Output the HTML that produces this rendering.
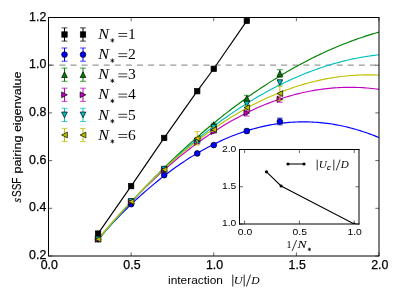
<!DOCTYPE html>
<html><head><meta charset="utf-8"><style>html,body{margin:0;padding:0;background:#fff;overflow:hidden}body{width:399px;height:299px;position:relative;font-family:"Liberation Sans",sans-serif}</style></head><body>
<svg width="399" height="299" viewBox="0 0 399 299" style="position:absolute;left:0;top:0;will-change:transform">
<rect width="399" height="299" fill="#fff"/>
<defs><clipPath id="ax"><rect x="48.5" y="17.5" width="330.5" height="238.5"/></clipPath></defs>
<path d="M48.5 65.20H379.0" stroke="#999" stroke-width="1.2" stroke-dasharray="6 5.09" stroke-dashoffset="0.2" fill="none"/>
<g clip-path="url(#ax)">
<path d="M98.07 233.58 L131.12 186.12 L164.18 137.94 L197.22 91.20 L213.75 68.78 L246.80 20.84" stroke="#000000" stroke-width="1.15" fill="none"/>
<path d="M98.07 239.07 L100.44 236.39 L102.80 233.74 L105.16 231.13 L107.52 228.55 L109.88 225.99 L112.24 223.47 L114.60 220.98 L116.96 218.52 L119.32 216.09 L121.68 213.69 L124.04 211.33 L126.40 208.99 L128.76 206.68 L131.12 204.41 L133.49 202.17 L135.85 199.95 L138.21 197.77 L140.57 195.62 L142.93 193.50 L145.29 191.41 L147.65 189.35 L150.01 187.33 L152.37 185.33 L154.73 183.36 L157.09 181.43 L159.45 179.53 L161.81 177.65 L164.18 175.81 L166.54 174.00 L168.90 172.22 L171.26 170.47 L173.62 168.75 L175.98 167.06 L178.34 165.41 L180.70 163.78 L183.06 162.19 L185.42 160.62 L187.78 159.09 L190.14 157.59 L192.50 156.12 L194.86 154.68 L197.22 153.27 L199.59 151.89 L201.95 150.54 L204.31 149.23 L206.67 147.94 L209.03 146.69 L211.39 145.46 L213.75 144.27 L216.11 143.11 L218.47 141.98 L220.83 140.88 L223.19 139.81 L225.55 138.77 L227.91 137.76 L230.27 136.79 L232.64 135.84 L235.00 134.93 L237.36 134.04 L239.72 133.19 L242.08 132.37 L244.44 131.58 L246.80 130.82 L249.16 130.09 L251.52 129.39 L253.88 128.72 L256.24 128.08 L258.60 127.48 L260.96 126.90 L263.33 126.36 L265.69 125.85 L268.05 125.36 L270.41 124.91 L272.77 124.49 L275.13 124.10 L277.49 123.75 L279.85 123.42 L282.21 123.12 L284.57 122.86 L286.93 122.62 L289.29 122.42 L291.65 122.24 L294.01 122.10 L296.38 121.99 L298.74 121.91 L301.10 121.86 L303.46 121.84 L305.82 121.86 L308.18 121.90 L310.54 121.97 L312.90 122.08 L315.26 122.21 L317.62 122.38 L319.98 122.58 L322.34 122.81 L324.70 123.07 L327.06 123.36 L329.43 123.68 L331.79 124.03 L334.15 124.42 L336.51 124.83 L338.87 125.28 L341.23 125.75 L343.59 126.26 L345.95 126.80 L348.31 127.37 L350.67 127.97 L353.03 128.60 L355.39 129.26 L357.75 129.95 L360.11 130.67 L362.47 131.43 L364.84 132.21 L367.20 133.03 L369.56 133.88 L371.92 134.75 L374.28 135.66 L376.64 136.60 L379.00 137.57" stroke="#0000ff" stroke-width="1.15" fill="none"/>
<path d="M98.07 239.90 L100.44 237.08 L102.80 234.28 L105.16 231.50 L107.52 228.73 L109.88 225.98 L112.24 223.26 L114.60 220.55 L116.96 217.85 L119.32 215.18 L121.68 212.52 L124.04 209.89 L126.40 207.27 L128.76 204.66 L131.12 202.08 L133.49 199.52 L135.85 196.97 L138.21 194.44 L140.57 191.93 L142.93 189.44 L145.29 186.96 L147.65 184.51 L150.01 182.07 L152.37 179.65 L154.73 177.25 L157.09 174.87 L159.45 172.50 L161.81 170.16 L164.18 167.83 L166.54 165.52 L168.90 163.23 L171.26 160.95 L173.62 158.70 L175.98 156.46 L178.34 154.24 L180.70 152.04 L183.06 149.86 L185.42 147.69 L187.78 145.54 L190.14 143.42 L192.50 141.31 L194.86 139.21 L197.22 137.14 L199.59 135.08 L201.95 133.05 L204.31 131.03 L206.67 129.03 L209.03 127.04 L211.39 125.08 L213.75 123.13 L216.11 121.20 L218.47 119.29 L220.83 117.40 L223.19 115.53 L225.55 113.67 L227.91 111.84 L230.27 110.02 L232.64 108.22 L235.00 106.43 L237.36 104.67 L239.72 102.92 L242.08 101.19 L244.44 99.48 L246.80 97.79 L249.16 96.12 L251.52 94.46 L253.88 92.83 L256.24 91.21 L258.60 89.61 L260.96 88.02 L263.33 86.46 L265.69 84.91 L268.05 83.38 L270.41 81.87 L272.77 80.38 L275.13 78.91 L277.49 77.45 L279.85 76.02 L282.21 74.60 L284.57 73.20 L286.93 71.81 L289.29 70.45 L291.65 69.10 L294.01 67.77 L296.38 66.47 L298.74 65.17 L301.10 63.90 L303.46 62.64 L305.82 61.41 L308.18 60.19 L310.54 58.99 L312.90 57.81 L315.26 56.64 L317.62 55.50 L319.98 54.37 L322.34 53.26 L324.70 52.17 L327.06 51.09 L329.43 50.04 L331.79 49.00 L334.15 47.98 L336.51 46.98 L338.87 46.00 L341.23 45.03 L343.59 44.09 L345.95 43.16 L348.31 42.25 L350.67 41.36 L353.03 40.49 L355.39 39.63 L357.75 38.79 L360.11 37.97 L362.47 37.17 L364.84 36.39 L367.20 35.63 L369.56 34.88 L371.92 34.15 L374.28 33.44 L376.64 32.75 L379.00 32.08" stroke="#008000" stroke-width="1.15" fill="none"/>
<path d="M98.07 239.18 L100.44 236.35 L102.80 233.54 L105.16 230.76 L107.52 228.01 L109.88 225.28 L112.24 222.58 L114.60 219.91 L116.96 217.26 L119.32 214.64 L121.68 212.05 L124.04 209.48 L126.40 206.94 L128.76 204.43 L131.12 201.94 L133.49 199.48 L135.85 197.05 L138.21 194.64 L140.57 192.26 L142.93 189.91 L145.29 187.58 L147.65 185.28 L150.01 183.01 L152.37 180.76 L154.73 178.54 L157.09 176.35 L159.45 174.18 L161.81 172.04 L164.18 169.93 L166.54 167.85 L168.90 165.79 L171.26 163.75 L173.62 161.75 L175.98 159.77 L178.34 157.81 L180.70 155.89 L183.06 153.99 L185.42 152.12 L187.78 150.27 L190.14 148.45 L192.50 146.66 L194.86 144.89 L197.22 143.15 L199.59 141.44 L201.95 139.75 L204.31 138.09 L206.67 136.46 L209.03 134.85 L211.39 133.27 L213.75 131.72 L216.11 130.20 L218.47 128.70 L220.83 127.22 L223.19 125.78 L225.55 124.36 L227.91 122.97 L230.27 121.60 L232.64 120.26 L235.00 118.95 L237.36 117.66 L239.72 116.40 L242.08 115.17 L244.44 113.96 L246.80 112.78 L249.16 111.63 L251.52 110.51 L253.88 109.41 L256.24 108.33 L258.60 107.29 L260.96 106.27 L263.33 105.28 L265.69 104.31 L268.05 103.37 L270.41 102.46 L272.77 101.57 L275.13 100.71 L277.49 99.88 L279.85 99.08 L282.21 98.30 L284.57 97.54 L286.93 96.82 L289.29 96.12 L291.65 95.45 L294.01 94.80 L296.38 94.18 L298.74 93.59 L301.10 93.02 L303.46 92.49 L305.82 91.97 L308.18 91.49 L310.54 91.03 L312.90 90.60 L315.26 90.19 L317.62 89.81 L319.98 89.46 L322.34 89.13 L324.70 88.84 L327.06 88.56 L329.43 88.32 L331.79 88.10 L334.15 87.91 L336.51 87.74 L338.87 87.60 L341.23 87.49 L343.59 87.40 L345.95 87.35 L348.31 87.31 L350.67 87.31 L353.03 87.33 L355.39 87.38 L357.75 87.45 L360.11 87.55 L362.47 87.68 L364.84 87.84 L367.20 88.02 L369.56 88.23 L371.92 88.46 L374.28 88.72 L376.64 89.01 L379.00 89.32" stroke="#bf00bf" stroke-width="1.15" fill="none"/>
<path d="M98.07 239.78 L100.44 236.95 L102.80 234.13 L105.16 231.34 L107.52 228.56 L109.88 225.81 L112.24 223.08 L114.60 220.38 L116.96 217.69 L119.32 215.03 L121.68 212.38 L124.04 209.76 L126.40 207.17 L128.76 204.59 L131.12 202.03 L133.49 199.50 L135.85 196.99 L138.21 194.50 L140.57 192.03 L142.93 189.58 L145.29 187.16 L147.65 184.76 L150.01 182.37 L152.37 180.02 L154.73 177.68 L157.09 175.36 L159.45 173.07 L161.81 170.79 L164.18 168.54 L166.54 166.32 L168.90 164.11 L171.26 161.92 L173.62 159.76 L175.98 157.62 L178.34 155.50 L180.70 153.40 L183.06 151.32 L185.42 149.27 L187.78 147.23 L190.14 145.22 L192.50 143.23 L194.86 141.26 L197.22 139.32 L199.59 137.39 L201.95 135.49 L204.31 133.61 L206.67 131.75 L209.03 129.91 L211.39 128.10 L213.75 126.30 L216.11 124.53 L218.47 122.78 L220.83 121.05 L223.19 119.34 L225.55 117.66 L227.91 115.99 L230.27 114.35 L232.64 112.73 L235.00 111.13 L237.36 109.56 L239.72 108.00 L242.08 106.47 L244.44 104.96 L246.80 103.47 L249.16 102.00 L251.52 100.55 L253.88 99.13 L256.24 97.73 L258.60 96.34 L260.96 94.99 L263.33 93.65 L265.69 92.33 L268.05 91.04 L270.41 89.77 L272.77 88.52 L275.13 87.29 L277.49 86.08 L279.85 84.89 L282.21 83.73 L284.57 82.59 L286.93 81.47 L289.29 80.37 L291.65 79.29 L294.01 78.24 L296.38 77.21 L298.74 76.19 L301.10 75.20 L303.46 74.24 L305.82 73.29 L308.18 72.37 L310.54 71.46 L312.90 70.58 L315.26 69.72 L317.62 68.89 L319.98 68.07 L322.34 67.28 L324.70 66.50 L327.06 65.75 L329.43 65.03 L331.79 64.32 L334.15 63.63 L336.51 62.97 L338.87 62.33 L341.23 61.71 L343.59 61.11 L345.95 60.53 L348.31 59.98 L350.67 59.45 L353.03 58.93 L355.39 58.45 L357.75 57.98 L360.11 57.53 L362.47 57.11 L364.84 56.70 L367.20 56.32 L369.56 55.96 L371.92 55.63 L374.28 55.31 L376.64 55.02 L379.00 54.75" stroke="#00bfbf" stroke-width="1.15" fill="none"/>
<path d="M98.07 239.26 L100.44 236.41 L102.80 233.57 L105.16 230.76 L107.52 227.98 L109.88 225.22 L112.24 222.49 L114.60 219.78 L116.96 217.10 L119.32 214.44 L121.68 211.81 L124.04 209.20 L126.40 206.62 L128.76 204.06 L131.12 201.53 L133.49 199.02 L135.85 196.54 L138.21 194.08 L140.57 191.65 L142.93 189.24 L145.29 186.86 L147.65 184.50 L150.01 182.17 L152.37 179.86 L154.73 177.58 L157.09 175.32 L159.45 173.09 L161.81 170.88 L164.18 168.70 L166.54 166.54 L168.90 164.41 L171.26 162.30 L173.62 160.22 L175.98 158.17 L178.34 156.13 L180.70 154.13 L183.06 152.15 L185.42 150.19 L187.78 148.26 L190.14 146.35 L192.50 144.47 L194.86 142.62 L197.22 140.78 L199.59 138.98 L201.95 137.20 L204.31 135.44 L206.67 133.71 L209.03 132.01 L211.39 130.32 L213.75 128.67 L216.11 127.04 L218.47 125.43 L220.83 123.85 L223.19 122.30 L225.55 120.77 L227.91 119.26 L230.27 117.78 L232.64 116.33 L235.00 114.90 L237.36 113.49 L239.72 112.11 L242.08 110.76 L244.44 109.43 L246.80 108.12 L249.16 106.84 L251.52 105.59 L253.88 104.36 L256.24 103.16 L258.60 101.98 L260.96 100.82 L263.33 99.69 L265.69 98.59 L268.05 97.51 L270.41 96.45 L272.77 95.43 L275.13 94.42 L277.49 93.44 L279.85 92.49 L282.21 91.56 L284.57 90.66 L286.93 89.78 L289.29 88.92 L291.65 88.10 L294.01 87.29 L296.38 86.51 L298.74 85.76 L301.10 85.03 L303.46 84.33 L305.82 83.65 L308.18 83.00 L310.54 82.37 L312.90 81.77 L315.26 81.19 L317.62 80.64 L319.98 80.11 L322.34 79.61 L324.70 79.13 L327.06 78.68 L329.43 78.25 L331.79 77.85 L334.15 77.47 L336.51 77.12 L338.87 76.79 L341.23 76.49 L343.59 76.21 L345.95 75.96 L348.31 75.73 L350.67 75.53 L353.03 75.35 L355.39 75.20 L357.75 75.07 L360.11 74.97 L362.47 74.90 L364.84 74.84 L367.20 74.82 L369.56 74.82 L371.92 74.84 L374.28 74.89 L376.64 74.96 L379.00 75.06" stroke="#bfbf00" stroke-width="1.15" fill="none"/>
<rect x="95.37" y="230.88" width="5.40" height="5.40" fill="#000000" stroke="#000" stroke-width="0.7"/>
<rect x="128.43" y="183.42" width="5.40" height="5.40" fill="#000000" stroke="#000" stroke-width="0.7"/>
<rect x="161.48" y="135.24" width="5.40" height="5.40" fill="#000000" stroke="#000" stroke-width="0.7"/>
<rect x="194.53" y="88.50" width="5.40" height="5.40" fill="#000000" stroke="#000" stroke-width="0.7"/>
<rect x="211.05" y="66.08" width="5.40" height="5.40" fill="#000000" stroke="#000" stroke-width="0.7"/>
<rect x="244.10" y="18.14" width="5.40" height="5.40" fill="#000000" stroke="#000" stroke-width="0.7"/>
<path d="M197.22 152.49V154.40" stroke="#0000ff" stroke-width="1" fill="none"/><path d="M194.32 152.49h5.8M194.32 154.40h5.8" stroke="#0000ff" stroke-width="0.75" fill="none"/>
<path d="M213.75 144.14V146.05" stroke="#0000ff" stroke-width="1" fill="none"/><path d="M210.85 144.14h5.8M210.85 146.05h5.8" stroke="#0000ff" stroke-width="0.75" fill="none"/>
<path d="M246.80 129.12V132.93" stroke="#0000ff" stroke-width="1" fill="none"/><path d="M243.90 129.12h5.8M243.90 132.93h5.8" stroke="#0000ff" stroke-width="0.75" fill="none"/>
<path d="M279.85 118.15V124.82" stroke="#0000ff" stroke-width="1" fill="none"/><path d="M276.95 118.15h5.8M276.95 124.82h5.8" stroke="#0000ff" stroke-width="0.75" fill="none"/>
<circle cx="98.07" cy="239.31" r="2.85" fill="#0000ff" stroke="#000" stroke-width="0.7"/>
<circle cx="131.12" cy="204.25" r="2.85" fill="#0000ff" stroke="#000" stroke-width="0.7"/>
<circle cx="164.18" cy="175.15" r="2.85" fill="#0000ff" stroke="#000" stroke-width="0.7"/>
<circle cx="197.22" cy="153.44" r="2.85" fill="#0000ff" stroke="#000" stroke-width="0.7"/>
<circle cx="213.75" cy="145.10" r="2.85" fill="#0000ff" stroke="#000" stroke-width="0.7"/>
<circle cx="246.80" cy="131.03" r="2.85" fill="#0000ff" stroke="#000" stroke-width="0.7"/>
<circle cx="279.85" cy="121.49" r="2.85" fill="#0000ff" stroke="#000" stroke-width="0.7"/>
<path d="M197.22 138.66V141.52" stroke="#008000" stroke-width="1" fill="none"/><path d="M194.32 138.66h5.8M194.32 141.52h5.8" stroke="#008000" stroke-width="0.75" fill="none"/>
<path d="M213.75 123.16V126.02" stroke="#008000" stroke-width="1" fill="none"/><path d="M210.85 123.16h5.8M210.85 126.02h5.8" stroke="#008000" stroke-width="0.75" fill="none"/>
<path d="M246.80 95.25V101.45" stroke="#008000" stroke-width="1" fill="none"/><path d="M243.90 95.25h5.8M243.90 101.45h5.8" stroke="#008000" stroke-width="0.75" fill="none"/>
<path d="M279.85 69.73V77.36" stroke="#008000" stroke-width="1" fill="none"/><path d="M276.95 69.73h5.8M276.95 77.36h5.8" stroke="#008000" stroke-width="0.75" fill="none"/>
<polygon points="98.07,235.98 100.92,241.68 95.22,241.68" fill="#008000" stroke="#000" stroke-width="0.7"/>
<polygon points="131.12,198.30 133.97,204.00 128.28,204.00" fill="#008000" stroke="#000" stroke-width="0.7"/>
<polygon points="164.18,165.86 167.03,171.56 161.33,171.56" fill="#008000" stroke="#000" stroke-width="0.7"/>
<polygon points="197.22,137.24 200.07,142.94 194.38,142.94" fill="#008000" stroke="#000" stroke-width="0.7"/>
<polygon points="213.75,121.74 216.60,127.44 210.90,127.44" fill="#008000" stroke="#000" stroke-width="0.7"/>
<polygon points="246.80,95.50 249.65,101.20 243.95,101.20" fill="#008000" stroke="#000" stroke-width="0.7"/>
<polygon points="279.85,70.70 282.70,76.40 277.00,76.40" fill="#008000" stroke="#000" stroke-width="0.7"/>
<path d="M197.22 141.04V143.91" stroke="#bf00bf" stroke-width="1" fill="none"/><path d="M194.32 141.04h5.8M194.32 143.91h5.8" stroke="#bf00bf" stroke-width="0.75" fill="none"/>
<path d="M213.75 130.31V133.17" stroke="#bf00bf" stroke-width="1" fill="none"/><path d="M210.85 130.31h5.8M210.85 133.17h5.8" stroke="#bf00bf" stroke-width="0.75" fill="none"/>
<path d="M246.80 109.80V116.00" stroke="#bf00bf" stroke-width="1" fill="none"/><path d="M243.90 109.80h5.8M243.90 116.00h5.8" stroke="#bf00bf" stroke-width="0.75" fill="none"/>
<path d="M279.85 96.11V102.31" stroke="#bf00bf" stroke-width="1" fill="none"/><path d="M276.95 96.11h5.8M276.95 102.31h5.8" stroke="#bf00bf" stroke-width="0.75" fill="none"/>
<polygon points="100.92,239.31 95.22,242.16 95.22,236.46" fill="#bf00bf" stroke="#000" stroke-width="0.7"/>
<polygon points="133.97,201.86 128.28,204.71 128.28,199.01" fill="#bf00bf" stroke="#000" stroke-width="0.7"/>
<polygon points="167.03,170.14 161.33,172.99 161.33,167.29" fill="#bf00bf" stroke="#000" stroke-width="0.7"/>
<polygon points="200.07,142.47 194.38,145.32 194.38,139.62" fill="#bf00bf" stroke="#000" stroke-width="0.7"/>
<polygon points="216.60,131.74 210.90,134.59 210.90,128.89" fill="#bf00bf" stroke="#000" stroke-width="0.7"/>
<polygon points="249.65,112.90 243.95,115.75 243.95,110.05" fill="#bf00bf" stroke="#000" stroke-width="0.7"/>
<polygon points="282.70,99.21 277.00,102.06 277.00,96.36" fill="#bf00bf" stroke="#000" stroke-width="0.7"/>
<path d="M197.22 139.61V142.47" stroke="#00bfbf" stroke-width="1" fill="none"/><path d="M194.32 139.61h5.8M194.32 142.47h5.8" stroke="#00bfbf" stroke-width="0.75" fill="none"/>
<path d="M213.75 125.78V128.64" stroke="#00bfbf" stroke-width="1" fill="none"/><path d="M210.85 125.78h5.8M210.85 128.64h5.8" stroke="#00bfbf" stroke-width="0.75" fill="none"/>
<path d="M246.80 102.17V105.98" stroke="#00bfbf" stroke-width="1" fill="none"/><path d="M243.90 102.17h5.8M243.90 105.98h5.8" stroke="#00bfbf" stroke-width="0.75" fill="none"/>
<path d="M279.85 80.23V85.00" stroke="#00bfbf" stroke-width="1" fill="none"/><path d="M276.95 80.23h5.8M276.95 85.00h5.8" stroke="#00bfbf" stroke-width="0.75" fill="none"/>
<polygon points="98.07,241.92 100.92,236.22 95.22,236.22" fill="#00bfbf" stroke="#000" stroke-width="0.7"/>
<polygon points="131.12,204.23 133.97,198.53 128.28,198.53" fill="#00bfbf" stroke="#000" stroke-width="0.7"/>
<polygon points="164.18,172.04 167.03,166.34 161.33,166.34" fill="#00bfbf" stroke="#000" stroke-width="0.7"/>
<polygon points="197.22,143.89 200.07,138.19 194.38,138.19" fill="#00bfbf" stroke="#000" stroke-width="0.7"/>
<polygon points="213.75,130.06 216.60,124.36 210.90,124.36" fill="#00bfbf" stroke="#000" stroke-width="0.7"/>
<polygon points="246.80,106.93 249.65,101.23 243.95,101.23" fill="#00bfbf" stroke="#000" stroke-width="0.7"/>
<polygon points="279.85,85.46 282.70,79.76 277.00,79.76" fill="#00bfbf" stroke="#000" stroke-width="0.7"/>
<path d="M197.22 131.62V144.98" stroke="#bfbf00" stroke-width="1" fill="none"/><path d="M194.32 131.62h5.8M194.32 144.98h5.8" stroke="#bfbf00" stroke-width="0.75" fill="none"/>
<path d="M213.75 127.69V131.50" stroke="#bfbf00" stroke-width="1" fill="none"/><path d="M210.85 127.69h5.8M210.85 131.50h5.8" stroke="#bfbf00" stroke-width="0.75" fill="none"/>
<path d="M246.80 105.75V109.56" stroke="#bfbf00" stroke-width="1" fill="none"/><path d="M243.90 105.75h5.8M243.90 109.56h5.8" stroke="#bfbf00" stroke-width="0.75" fill="none"/>
<path d="M279.85 86.35V100.66" stroke="#bfbf00" stroke-width="1" fill="none"/><path d="M276.95 86.35h5.8M276.95 100.66h5.8" stroke="#bfbf00" stroke-width="0.75" fill="none"/>
<polygon points="95.22,239.31 100.92,242.16 100.92,236.46" fill="#bfbf00" stroke="#000" stroke-width="0.7"/>
<polygon points="128.28,201.62 133.97,204.47 133.97,198.77" fill="#bfbf00" stroke="#000" stroke-width="0.7"/>
<polygon points="161.33,169.66 167.03,172.51 167.03,166.81" fill="#bfbf00" stroke="#000" stroke-width="0.7"/>
<polygon points="194.38,138.30 200.07,141.15 200.07,135.45" fill="#bfbf00" stroke="#000" stroke-width="0.7"/>
<polygon points="210.90,129.59 216.60,132.44 216.60,126.75" fill="#bfbf00" stroke="#000" stroke-width="0.7"/>
<polygon points="243.95,107.65 249.65,110.50 249.65,104.80" fill="#bfbf00" stroke="#000" stroke-width="0.7"/>
<polygon points="277.00,93.51 282.70,96.36 282.70,90.66" fill="#bfbf00" stroke="#000" stroke-width="0.7"/>
</g>
<rect x="48.5" y="17.5" width="330.5" height="238.5" fill="none" stroke="#000" stroke-width="1"/>
<path d="M48.50 256.0v-3.7M48.50 17.5v3.7M131.12 256.0v-3.7M131.12 17.5v3.7M213.75 256.0v-3.7M213.75 17.5v3.7M296.38 256.0v-3.7M296.38 17.5v3.7M379.00 256.0v-3.7M379.00 17.5v3.7M48.5 256.00h3.7M379.0 256.00h-3.7M48.5 208.30h3.7M379.0 208.30h-3.7M48.5 160.60h3.7M379.0 160.60h-3.7M48.5 112.90h3.7M379.0 112.90h-3.7M48.5 65.20h3.7M379.0 65.20h-3.7M48.5 17.50h3.7M379.0 17.50h-3.7" stroke="#000" stroke-width="0.6" fill="none"/>
<text x="49.30" y="268.8" font-size="12.1" font-family="Liberation Sans, sans-serif" stroke="#000" stroke-width="0.25" text-anchor="middle" textLength="17.2" lengthAdjust="spacingAndGlyphs">0.0</text>
<text x="131.93" y="268.8" font-size="12.1" font-family="Liberation Sans, sans-serif" stroke="#000" stroke-width="0.25" text-anchor="middle" textLength="17.2" lengthAdjust="spacingAndGlyphs">0.5</text>
<text x="214.55" y="268.8" font-size="12.1" font-family="Liberation Sans, sans-serif" stroke="#000" stroke-width="0.25" text-anchor="middle" textLength="17.2" lengthAdjust="spacingAndGlyphs">1.0</text>
<text x="297.18" y="268.8" font-size="12.1" font-family="Liberation Sans, sans-serif" stroke="#000" stroke-width="0.25" text-anchor="middle" textLength="17.2" lengthAdjust="spacingAndGlyphs">1.5</text>
<text x="379.80" y="268.8" font-size="12.1" font-family="Liberation Sans, sans-serif" stroke="#000" stroke-width="0.25" text-anchor="middle" textLength="17.2" lengthAdjust="spacingAndGlyphs">2.0</text>
<text x="46.3" y="259.00" font-size="12.1" font-family="Liberation Sans, sans-serif" stroke="#000" stroke-width="0.25" text-anchor="end" textLength="17.2" lengthAdjust="spacingAndGlyphs">0.2</text>
<text x="46.3" y="211.30" font-size="12.1" font-family="Liberation Sans, sans-serif" stroke="#000" stroke-width="0.25" text-anchor="end" textLength="17.2" lengthAdjust="spacingAndGlyphs">0.4</text>
<text x="46.3" y="163.60" font-size="12.1" font-family="Liberation Sans, sans-serif" stroke="#000" stroke-width="0.25" text-anchor="end" textLength="17.2" lengthAdjust="spacingAndGlyphs">0.6</text>
<text x="46.3" y="115.90" font-size="12.1" font-family="Liberation Sans, sans-serif" stroke="#000" stroke-width="0.25" text-anchor="end" textLength="17.2" lengthAdjust="spacingAndGlyphs">0.8</text>
<text x="46.3" y="68.20" font-size="12.1" font-family="Liberation Sans, sans-serif" stroke="#000" stroke-width="0.25" text-anchor="end" textLength="17.2" lengthAdjust="spacingAndGlyphs">1.0</text>
<text x="46.3" y="20.50" font-size="12.1" font-family="Liberation Sans, sans-serif" stroke="#000" stroke-width="0.25" text-anchor="end" textLength="17.2" lengthAdjust="spacingAndGlyphs">1.2</text>
<text x="168" y="283.7" font-size="11.5" font-family="Liberation Sans, sans-serif" textLength="55" lengthAdjust="spacingAndGlyphs">interaction</text>
<path d="M232.8 274.6V286.5M244.2 274.6V286.5M246.4 286.5L250.6 274.6" stroke="#000" stroke-width="0.85" fill="none"/>
<text transform="translate(233.8,283.7) scale(1.12,1)" font-size="11" font-style="italic" font-family="Liberation Serif, serif">U</text>
<text transform="translate(251.2,283.7) scale(1.05,1)" font-size="11" font-style="italic" font-family="Liberation Serif, serif">D</text>
<g transform="translate(20.8,202.2) rotate(-90)"><text transform="translate(-0.2,0) scale(0.9,1)" font-size="12.6" font-style="italic" stroke="#000" stroke-width="0.2" font-family="Liberation Serif, serif">s</text><text x="5.2" y="0" font-size="12.5" font-family="Liberation Sans, sans-serif" stroke="#000" stroke-width="0.15" textLength="19.4" lengthAdjust="spacingAndGlyphs">SSF</text><text x="28.6" y="0" font-size="11.8" font-family="Liberation Sans, sans-serif" stroke="#000" stroke-width="0.15" textLength="38.2" lengthAdjust="spacingAndGlyphs">pairing</text><text x="70.1" y="0" font-size="11.8" font-family="Liberation Sans, sans-serif" stroke="#000" stroke-width="0.15" textLength="60.6" lengthAdjust="spacingAndGlyphs">eigenvalue</text></g>
<path d="M64.50 27.90V41.10" stroke="#000000" stroke-width="1" fill="none"/><path d="M61.60 27.90h5.8M61.60 41.10h5.8" stroke="#000000" stroke-width="0.75" fill="none"/>
<rect x="61.80" y="31.80" width="5.40" height="5.40" fill="#000000" stroke="#000" stroke-width="0.7"/>
<path d="M83.00 27.90V41.10" stroke="#000000" stroke-width="1" fill="none"/><path d="M80.10 27.90h5.8M80.10 41.10h5.8" stroke="#000000" stroke-width="0.75" fill="none"/>
<rect x="80.30" y="31.80" width="5.40" height="5.40" fill="#000000" stroke="#000" stroke-width="0.7"/>
<text transform="translate(98.3,38.8) scale(1.15,1)" font-size="14" font-style="italic" font-family="Liberation Serif, serif">N</text>
<path d="M112.40 38.30L112.40 42.50M110.58 39.35L114.22 41.45M114.22 39.35L110.58 41.45" stroke="#000" stroke-width="0.8" fill="none"/>
<path d="M118.4 33.50h8.8M118.4 36.40h8.8" stroke="#000" stroke-width="0.75" fill="none"/>
<text transform="translate(127.9,38.8) scale(1.08,1)" font-size="14.4" font-family="Liberation Serif, serif">1</text>
<path d="M64.50 48.00V61.20" stroke="#0000ff" stroke-width="1" fill="none"/><path d="M61.60 48.00h5.8M61.60 61.20h5.8" stroke="#0000ff" stroke-width="0.75" fill="none"/>
<circle cx="64.50" cy="54.60" r="2.85" fill="#0000ff" stroke="#000" stroke-width="0.7"/>
<path d="M83.00 48.00V61.20" stroke="#0000ff" stroke-width="1" fill="none"/><path d="M80.10 48.00h5.8M80.10 61.20h5.8" stroke="#0000ff" stroke-width="0.75" fill="none"/>
<circle cx="83.00" cy="54.60" r="2.85" fill="#0000ff" stroke="#000" stroke-width="0.7"/>
<text transform="translate(98.3,59.0) scale(1.15,1)" font-size="14" font-style="italic" font-family="Liberation Serif, serif">N</text>
<path d="M112.40 58.50L112.40 62.70M110.58 59.55L114.22 61.65M114.22 59.55L110.58 61.65" stroke="#000" stroke-width="0.8" fill="none"/>
<path d="M118.4 53.70h8.8M118.4 56.60h8.8" stroke="#000" stroke-width="0.75" fill="none"/>
<text transform="translate(127.9,59.0) scale(1.08,1)" font-size="14.4" font-family="Liberation Serif, serif">2</text>
<path d="M64.50 68.10V81.30" stroke="#008000" stroke-width="1" fill="none"/><path d="M61.60 68.10h5.8M61.60 81.30h5.8" stroke="#008000" stroke-width="0.75" fill="none"/>
<polygon points="64.50,71.85 67.35,77.55 61.65,77.55" fill="#008000" stroke="#000" stroke-width="0.7"/>
<path d="M83.00 68.10V81.30" stroke="#008000" stroke-width="1" fill="none"/><path d="M80.10 68.10h5.8M80.10 81.30h5.8" stroke="#008000" stroke-width="0.75" fill="none"/>
<polygon points="83.00,71.85 85.85,77.55 80.15,77.55" fill="#008000" stroke="#000" stroke-width="0.7"/>
<text transform="translate(98.3,79.19999999999999) scale(1.15,1)" font-size="14" font-style="italic" font-family="Liberation Serif, serif">N</text>
<path d="M112.40 78.70L112.40 82.90M110.58 79.75L114.22 81.85M114.22 79.75L110.58 81.85" stroke="#000" stroke-width="0.8" fill="none"/>
<path d="M118.4 73.90h8.8M118.4 76.80h8.8" stroke="#000" stroke-width="0.75" fill="none"/>
<text transform="translate(127.9,79.19999999999999) scale(1.08,1)" font-size="14.4" font-family="Liberation Serif, serif">3</text>
<path d="M64.50 88.20V101.40" stroke="#bf00bf" stroke-width="1" fill="none"/><path d="M61.60 88.20h5.8M61.60 101.40h5.8" stroke="#bf00bf" stroke-width="0.75" fill="none"/>
<polygon points="67.35,94.80 61.65,97.65 61.65,91.95" fill="#bf00bf" stroke="#000" stroke-width="0.7"/>
<path d="M83.00 88.20V101.40" stroke="#bf00bf" stroke-width="1" fill="none"/><path d="M80.10 88.20h5.8M80.10 101.40h5.8" stroke="#bf00bf" stroke-width="0.75" fill="none"/>
<polygon points="85.85,94.80 80.15,97.65 80.15,91.95" fill="#bf00bf" stroke="#000" stroke-width="0.7"/>
<text transform="translate(98.3,99.39999999999999) scale(1.15,1)" font-size="14" font-style="italic" font-family="Liberation Serif, serif">N</text>
<path d="M112.40 98.90L112.40 103.10M110.58 99.95L114.22 102.05M114.22 99.95L110.58 102.05" stroke="#000" stroke-width="0.8" fill="none"/>
<path d="M118.4 94.10h8.8M118.4 97.00h8.8" stroke="#000" stroke-width="0.75" fill="none"/>
<text transform="translate(127.9,99.39999999999999) scale(1.08,1)" font-size="14.4" font-family="Liberation Serif, serif">4</text>
<path d="M64.50 108.30V121.50" stroke="#00bfbf" stroke-width="1" fill="none"/><path d="M61.60 108.30h5.8M61.60 121.50h5.8" stroke="#00bfbf" stroke-width="0.75" fill="none"/>
<polygon points="64.50,117.75 67.35,112.05 61.65,112.05" fill="#00bfbf" stroke="#000" stroke-width="0.7"/>
<path d="M83.00 108.30V121.50" stroke="#00bfbf" stroke-width="1" fill="none"/><path d="M80.10 108.30h5.8M80.10 121.50h5.8" stroke="#00bfbf" stroke-width="0.75" fill="none"/>
<polygon points="83.00,117.75 85.85,112.05 80.15,112.05" fill="#00bfbf" stroke="#000" stroke-width="0.7"/>
<text transform="translate(98.3,119.6) scale(1.15,1)" font-size="14" font-style="italic" font-family="Liberation Serif, serif">N</text>
<path d="M112.40 119.10L112.40 123.30M110.58 120.15L114.22 122.25M114.22 120.15L110.58 122.25" stroke="#000" stroke-width="0.8" fill="none"/>
<path d="M118.4 114.30h8.8M118.4 117.20h8.8" stroke="#000" stroke-width="0.75" fill="none"/>
<text transform="translate(127.9,119.6) scale(1.08,1)" font-size="14.4" font-family="Liberation Serif, serif">5</text>
<path d="M64.50 128.40V141.60" stroke="#bfbf00" stroke-width="1" fill="none"/><path d="M61.60 128.40h5.8M61.60 141.60h5.8" stroke="#bfbf00" stroke-width="0.75" fill="none"/>
<polygon points="61.65,135.00 67.35,137.85 67.35,132.15" fill="#bfbf00" stroke="#000" stroke-width="0.7"/>
<path d="M83.00 128.40V141.60" stroke="#bfbf00" stroke-width="1" fill="none"/><path d="M80.10 128.40h5.8M80.10 141.60h5.8" stroke="#bfbf00" stroke-width="0.75" fill="none"/>
<polygon points="80.15,135.00 85.85,137.85 85.85,132.15" fill="#bfbf00" stroke="#000" stroke-width="0.7"/>
<text transform="translate(98.3,139.8) scale(1.15,1)" font-size="14" font-style="italic" font-family="Liberation Serif, serif">N</text>
<path d="M112.40 139.30L112.40 143.50M110.58 140.35L114.22 142.45M114.22 140.35L110.58 142.45" stroke="#000" stroke-width="0.8" fill="none"/>
<path d="M118.4 134.50h8.8M118.4 137.40h8.8" stroke="#000" stroke-width="0.75" fill="none"/>
<text transform="translate(127.9,139.8) scale(1.08,1)" font-size="14.4" font-family="Liberation Serif, serif">6</text>
<rect x="239.5" y="149.5" width="119.5" height="74.5" fill="#fff" stroke="none"/>
<defs><clipPath id="iax"><rect x="239.5" y="149.5" width="119.5" height="74.5"/></clipPath></defs>
<path d="M244.60 224.0v-3.5M244.60 149.5v3.5M299.40 224.0v-3.5M299.40 149.5v3.5M354.20 224.0v-3.5M354.20 149.5v3.5M239.5 224.00h3.5M359.0 224.00h-3.5M239.5 186.75h3.5M359.0 186.75h-3.5M239.5 149.50h3.5M359.0 149.50h-3.5" stroke="#000" stroke-width="0.6" fill="none"/>
<g clip-path="url(#iax)"><path d="M266.52 171.85 L281.13 186.00 L354.20 224.00" stroke="#000" stroke-width="1.05" fill="none"/>
<circle cx="266.52" cy="171.85" r="1.6" fill="#000"/>
<circle cx="281.13" cy="186.00" r="1.6" fill="#000"/>
<circle cx="354.20" cy="224.00" r="1.6" fill="#000"/>
</g>
<path d="M239.5 149.5H359.0M239.5 149.5V224.0M239.5 224.0H359.0M359.0 149.5V224.0" fill="none" stroke="#000" stroke-width="1" stroke-linecap="square"/>
<text x="245.00" y="234.7" font-size="9.2" font-family="Liberation Sans, sans-serif" text-anchor="middle" textLength="14.4" lengthAdjust="spacingAndGlyphs">0.0</text>
<text x="299.80" y="234.7" font-size="9.2" font-family="Liberation Sans, sans-serif" text-anchor="middle" textLength="14.4" lengthAdjust="spacingAndGlyphs">0.5</text>
<text x="354.60" y="234.7" font-size="9.2" font-family="Liberation Sans, sans-serif" text-anchor="middle" textLength="14.4" lengthAdjust="spacingAndGlyphs">1.0</text>
<text x="236.3" y="226.40" font-size="9.2" font-family="Liberation Sans, sans-serif" text-anchor="end" textLength="14.4" lengthAdjust="spacingAndGlyphs">1.0</text>
<text x="236.3" y="189.15" font-size="9.2" font-family="Liberation Sans, sans-serif" text-anchor="end" textLength="14.4" lengthAdjust="spacingAndGlyphs">1.5</text>
<text x="236.3" y="151.90" font-size="9.2" font-family="Liberation Sans, sans-serif" text-anchor="end" textLength="14.4" lengthAdjust="spacingAndGlyphs">2.0</text>
<text x="286.6" y="247.9" font-size="10" font-family="Liberation Serif, serif">1</text>
<path d="M292.2 250.9L296.6 240" stroke="#000" stroke-width="0.8" fill="none"/>
<text transform="translate(297.6,247.9) scale(1.33,1)" font-size="10.2" font-style="italic" font-family="Liberation Serif, serif">N</text>
<path d="M309.40 247.60L309.40 251.20M307.84 248.50L310.96 250.30M310.96 248.50L307.84 250.30" stroke="#000" stroke-width="0.75" fill="none"/>
<path d="M288 164H304" stroke="#000" stroke-width="1.05"/><circle cx="288" cy="164" r="1.6"/><circle cx="304" cy="164" r="1.6"/>
<path d="M317.2 159.6V170.4M333.8 159.6V170.4M336.2 170.4L340.2 159.6" stroke="#000" stroke-width="0.8" fill="none"/>
<text transform="translate(318.8,167.6) scale(1.12,1)" font-size="10.1" font-style="italic" font-family="Liberation Serif, serif">U</text>
<text transform="translate(327,170) scale(1.15,1)" font-size="7.2" font-style="italic" font-family="Liberation Serif, serif" stroke="#000" stroke-width="0.2">c</text>
<text transform="translate(340.8,167.6) scale(1.1,1)" font-size="10.1" font-style="italic" font-family="Liberation Serif, serif">D</text>
</svg>
</body></html>
